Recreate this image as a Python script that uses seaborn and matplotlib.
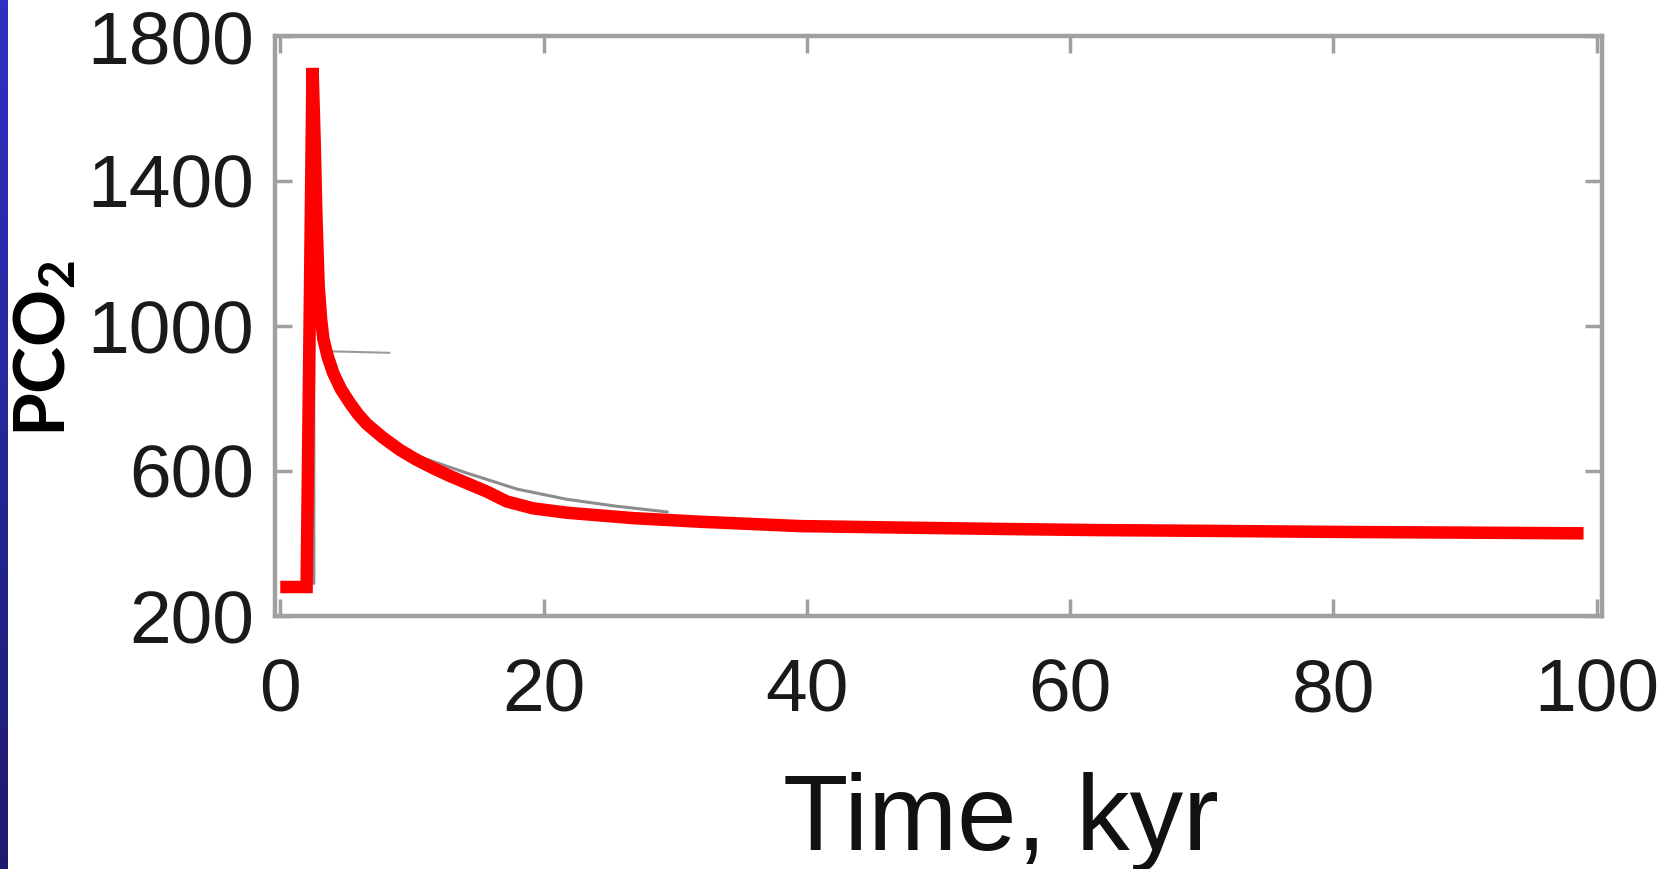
import numpy as np
import pandas as pd
import matplotlib
matplotlib.use("Agg")
import matplotlib.pyplot as plt
import seaborn as sns
from matplotlib.colors import LinearSegmentedColormap

# ---- data ----
time_kyr = [0.0, 2.0, 2.45, 2.62, 2.74, 2.92, 3.1, 3.27, 3.6, 4.0, 4.6, 5.3,
            5.9, 6.56, 7.8, 9.09, 10.3, 11.6, 12.9, 14.2, 15.7, 17.2, 19.2,
            21.75, 26.8, 31.9, 39.5, 47.0, 55.0, 62.0, 70.0, 80.0, 90.0, 99.0]
pco2 = [280, 280, 1712, 1500, 1310, 1108, 1020, 965, 915, 872, 826, 787,
        757, 730, 692, 658, 632, 608, 586, 566, 543, 516, 497,
        485, 470, 460, 448, 444, 440, 437, 435, 432, 430, 428]

# faint gray underlying curve
gray_time = [2.55, 2.55, 2.8, 3.1, 3.6, 4.5, 6.0, 7.8, 10.5, 14.2, 18.0,
             21.75, 25.5, 29.4]
gray_pco2 = [290, 1650, 1250, 1060, 960, 860, 760, 700, 640, 594, 550,
             522, 503, 487]
gray_seg_time = [4.0, 8.3]
gray_seg_pco2 = [930, 926]

xticks = [0, 20, 40, 60, 80, 100]
yticks = [200, 600, 1000, 1400, 1800]

# ---- style ----
sns.set_theme(style="white")
plt.rcParams['font.family'] = ['Liberation Sans', 'DejaVu Sans']
plt.rcParams['mathtext.fontset'] = 'custom'
plt.rcParams['mathtext.bf'] = 'Lato:bold'
plt.rcParams['mathtext.rm'] = 'Lato:bold'

W, H = 1669, 869
fig = plt.figure(figsize=(W / 100, H / 100), dpi=100)
fig.patch.set_facecolor("white")

L, R, T, B = 275, 1602, 36, 616
ax = fig.add_axes([L / W, 1 - B / H, (R - L) / W, (B - T) / H])

df = pd.DataFrame({"t": time_kyr, "p": pco2})
dg = pd.DataFrame({"t": gray_time, "p": gray_pco2})
ds = pd.DataFrame({"t": gray_seg_time, "p": gray_seg_pco2})

sns.lineplot(data=ds, x="t", y="p", ax=ax, color="#9a9a9a", lw=1.5,
             sort=False, estimator=None, zorder=2)
sns.lineplot(data=dg, x="t", y="p", ax=ax, color="#8c8c8c", lw=2.2,
             sort=False, estimator=None, zorder=2)
sns.lineplot(data=df, x="t", y="p", ax=ax, color="#ff0000", lw=9,
             sort=False, estimator=None, zorder=3)
red = ax.lines[-1]
red.set_solid_joinstyle("miter")
red.set_solid_capstyle("butt")

ax.set_xlim(-0.4, 100.4)
ax.set_ylim(200, 1800)
ax.set_xticks(xticks)
ax.set_yticks(yticks)
ax.set_xticklabels([str(v) for v in xticks])
ax.set_yticklabels([str(v) for v in yticks])

spine_c = "#a0a0a0"
for s in ax.spines.values():
    s.set_visible(True)
    s.set_color(spine_c)
    s.set_linewidth(3.2)

ax.tick_params(axis="both", which="major", direction="in", length=12,
               width=2.5, color=spine_c, labelsize=54, labelcolor="#1a1a1a",
               top=True, right=True, bottom=True, left=True)
ax.tick_params(axis="x", pad=30)
ax.tick_params(axis="y", pad=15)

ax.set_xlabel("Time, kyr", fontsize=77, color="#111111")
ax.xaxis.set_label_coords((1001 - L) / (R - L), (B - 850) / (B - T))
ax.xaxis.label.set_va("baseline")

ax.set_ylabel(r"$\mathbf{PCO_2}$", fontsize=51, color="black")
ax.yaxis.set_label_coords((47 - L) / (R - L), (B - 348) / (B - T))
ax.yaxis.label.set_va("center")

# blue strip on the left edge
sax = fig.add_axes([0, 0, 7 / W, 1])
grad = np.linspace(0, 1, 256).reshape(-1, 1)
cmap = LinearSegmentedColormap.from_list("strip", ["#3030c4", "#1c1c6e"])
sax.imshow(grad, aspect="auto", cmap=cmap, extent=[0, 1, 0, 1], origin="upper")
sax.set_axis_off()

fig.savefig("out.png", dpi=100, facecolor="white")
